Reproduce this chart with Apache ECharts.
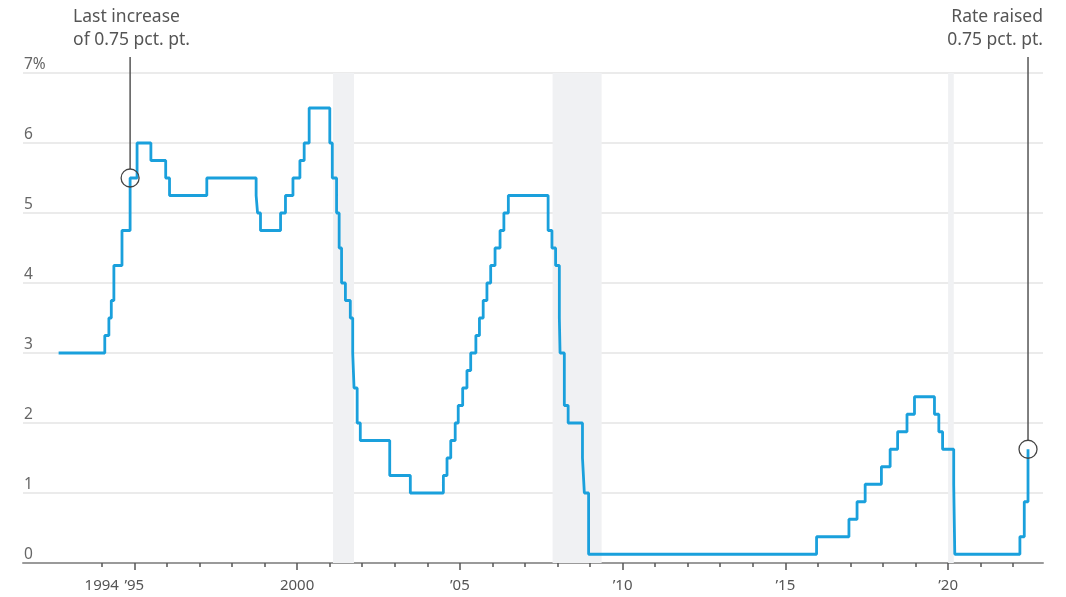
<!DOCTYPE html>
<html>
<head>
<meta charset="utf-8">
<script src="https://cdn.jsdelivr.net/npm/echarts@6/dist/echarts.min.js"></script>
<style>
html,body{margin:0;padding:0;background:#fff;}
#chart{width:1066px;height:597px;}
</style>
</head>
<body>
<div id="chart"></div>
<script>
// Fed funds target rate (midpoint of range after 2008), percent; each value holds from its date
const changeDates = [
  '1992-09-04','1994-02-04','1994-03-22','1994-04-18','1994-05-17','1994-08-16','1994-11-15',
  '1995-02-01','1995-07-06','1995-12-19','1996-01-31','1997-03-25','1998-09-29','1998-10-15',
  '1998-11-17','1999-06-30','1999-08-24','1999-11-16','2000-02-02','2000-03-21','2000-05-16',
  '2001-01-03','2001-01-31','2001-03-20','2001-04-18','2001-05-15','2001-06-27','2001-08-21',
  '2001-09-17','2001-10-02','2001-11-06','2001-12-11','2002-11-06','2003-06-25','2004-06-30',
  '2004-08-10','2004-09-21','2004-11-10','2004-12-14','2005-02-02','2005-03-22','2005-05-03',
  '2005-06-30','2005-08-09','2005-09-20','2005-11-01','2005-12-13','2006-01-31','2006-03-28',
  '2006-05-10','2006-06-29','2007-09-18','2007-10-31','2007-12-11','2008-01-22','2008-01-30',
  '2008-03-18','2008-04-30','2008-10-08','2008-10-29','2008-12-16','2015-12-17','2016-12-15',
  '2017-03-16','2017-06-15','2017-12-14','2018-03-22','2018-06-14','2018-09-27','2018-12-20',
  '2019-08-01','2019-09-19','2019-10-31','2020-03-04','2020-03-16','2022-03-17','2022-05-05',
  '2022-06-16'
];
const rateValues = [
  3.00,3.25,3.50,3.75,4.25,4.75,5.50,
  6.00,5.75,5.50,5.25,5.50,5.25,5.00,
  4.75,5.00,5.25,5.50,5.75,6.00,6.50,
  6.00,5.50,5.00,4.50,4.00,3.75,3.50,
  3.00,2.50,2.00,1.75,1.25,1.00,1.25,
  1.50,1.75,2.00,2.25,2.50,2.75,3.00,
  3.25,3.50,3.75,4.00,4.25,4.50,4.75,
  5.00,5.25,4.75,4.50,4.25,3.50,3.00,
  2.25,2.00,1.50,1.00,0.125,0.375,0.625,
  0.875,1.125,1.375,1.625,1.875,2.125,2.375,
  2.125,1.875,1.625,1.125,0.125,0.375,0.875,
  1.625
];
// shaded recession periods
const recessionStarts = ['2001-02-08','2007-11-07','2020-01-01'];
const recessionEnds   = ['2001-10-01','2009-05-11','2020-03-05'];
// axis ticks and labels
const minorTickYears = [1994,1995,1996,1997,1998,1999,2000,2001,2002,2003,2004,2005,2006,2007,2008,2009,2010,2011,2012,2013,2014,2015,2016,2017,2018,2019,2020,2021,2022];
const majorTickYears = [1995,2000,2005,2010,2015,2020];
const labelYears = [1994,1995,2000,2005,2010,2015,2020];
const yTicks = [0,1,2,3,4,5,6,7];
// annotations
const annoLeft = {date:'1994-11-15', value:5.50, text:'Last increase\nof 0.75 pct. pt.'};
const annoRight = {date:'2022-06-16', value:1.625, text:'Rate raised\n0.75 pct. pt.'};

// date string -> decimal year
function decYear(s){
  const p = s.split('-').map(Number);
  const start = Date.UTC(p[0],0,1), end = Date.UTC(p[0]+1,0,1);
  return p[0] + (Date.UTC(p[0],p[1]-1,p[2]) - start)/(end-start);
}
const X_MIN = decYear('1991-08-01');
const X_MAX = decYear('2022-12-01');

const chart = echarts.init(document.getElementById('chart'), null, {renderer:'canvas'});
const FONT = '"Noto Sans", sans-serif';

const option = {
  animation:false,
  grid:{left:23,right:23,top:73,bottom:34,containLabel:false},
  xAxis:[{
    type:'value', min:X_MIN, max:X_MAX, position:'bottom',
    axisLine:{show:true,lineStyle:{color:'#9a9a9a',width:2}},
    axisTick:{show:true,length:4,lineStyle:{color:'#555',width:1.5},customValues:minorTickYears},
    axisLabel:{show:true,customValues:labelYears,margin:15,color:'#555',fontSize:15,fontFamily:FONT,
      formatter:function(v){const y=Math.round(v); if(y===1994||y===2000) return String(y); return '\u2019'+String(y).slice(2);}},
    splitLine:{show:false}
  },{
    type:'value', min:X_MIN, max:X_MAX, position:'bottom', offset:0,
    axisLine:{show:false},
    axisTick:{show:true,length:7,lineStyle:{color:'#555',width:1.5},customValues:majorTickYears},
    axisLabel:{show:false},
    splitLine:{show:false}
  }],
  yAxis:{
    type:'value', min:0, max:7, interval:1,
    axisLine:{show:false}, axisTick:{show:false},
    axisLabel:{inside:true,verticalAlign:'bottom',margin:1,color:'#666',fontSize:15.5,fontFamily:FONT,
      formatter:function(v){return v===7?'7%':String(v);}},
    splitLine:{show:true,lineStyle:{color:'#ebebeb',width:2}}
  },
  series:[{
    type:'line', data:[], z:1, silent:true,
    markArea:{silent:true,itemStyle:{color:'#f0f1f3'},
      data:recessionStarts.map((s,i)=>[{xAxis:decYear(s)},{xAxis:decYear(recessionEnds[i])}])}
  },{
    type:'line', z:3, step:'end', showSymbol:false, silent:true,
    data:changeDates.map((d,i)=>[decYear(d),rateValues[i]]),
    lineStyle:{color:'#1aa0dc',width:2.8}
  }]
};
chart.setOption(option);

function buildAnno(){
  const pl = chart.convertToPixel({xAxisIndex:0,yAxisIndex:0},[decYear(annoLeft.date),annoLeft.value]);
  const pr = chart.convertToPixel({xAxisIndex:0,yAxisIndex:0},[decYear(annoRight.date),annoRight.value]);
  const r = 9;
  const lineTop = 57;
  const rightEdge = 1066-23;
  const g = [
    {type:'line',z:10,shape:{x1:pl[0],y1:lineTop,x2:pl[0],y2:pl[1]-r},style:{stroke:'#555',lineWidth:1.5}},
    {type:'circle',z:10,shape:{cx:pl[0],cy:pl[1],r:r},style:{fill:null,stroke:'#444',lineWidth:1.3}},
    {type:'text',z:10,x:pl[0]-57,y:6,style:{text:annoLeft.text,fill:'#555',font:'17.5px '+FONT,lineHeight:23,align:'left',verticalAlign:'top'}},
    {type:'line',z:10,shape:{x1:pr[0],y1:lineTop,x2:pr[0],y2:pr[1]-r},style:{stroke:'#555',lineWidth:1.5}},
    {type:'circle',z:10,shape:{cx:pr[0],cy:pr[1],r:r},style:{fill:null,stroke:'#444',lineWidth:1.3}},
    {type:'text',z:10,x:rightEdge,y:6,style:{text:annoRight.text,fill:'#555',font:'17.5px '+FONT,lineHeight:23,align:'right',verticalAlign:'top'}}
  ];
  chart.setOption({graphic:g});
}
buildAnno();
</script>
</body>
</html>
